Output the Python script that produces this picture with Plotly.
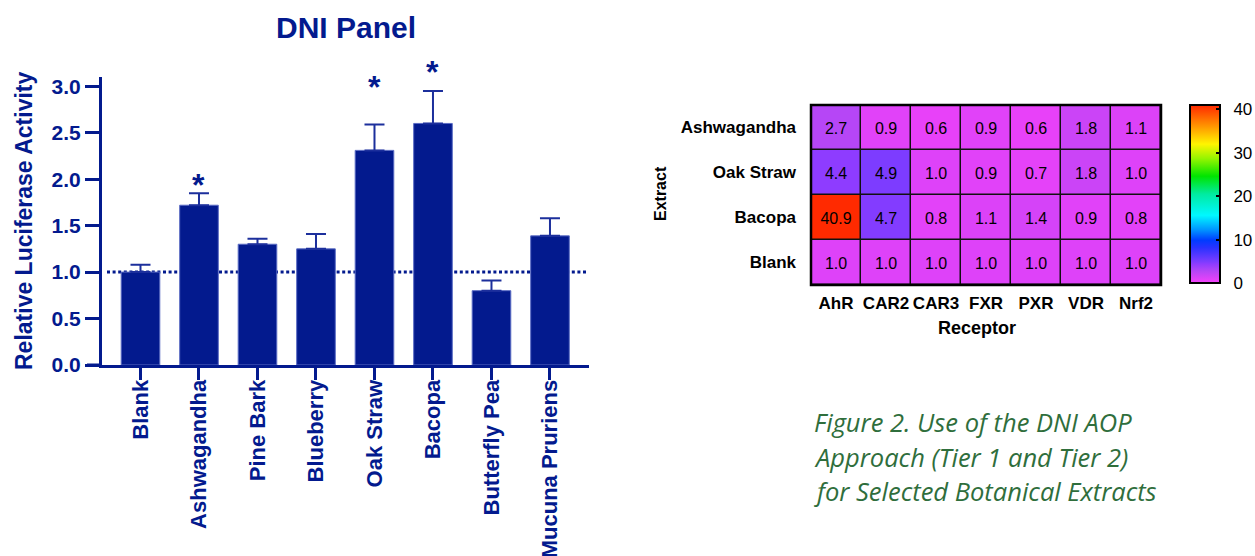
import plotly.graph_objects as go

# ---- Tier 1: DNI panel bar chart ----
extracts = ["Blank", "Ashwagandha", "Pine Bark", "Blueberry",
            "Oak Straw", "Bacopa", "Butterfly Pea", "Mucuna Pruriens"]
luciferase_mean = [1.00, 1.72, 1.30, 1.25, 2.31, 2.60, 0.80, 1.39]
luciferase_sem = [0.08, 0.13, 0.06, 0.16, 0.28, 0.35, 0.11, 0.19]
significant = [False, True, False, False, True, True, False, False]

# ---- Tier 2: receptor heatmap ----
receptors = ["AhR", "CAR2", "CAR3", "FXR", "PXR", "VDR", "Nrf2"]
heat_extracts = ["Ashwagandha", "Oak Straw", "Bacopa", "Blank"]
ashwagandha_fold = [2.7, 0.9, 0.6, 0.9, 0.6, 1.8, 1.1]
oak_straw_fold = [4.4, 4.9, 1.0, 0.9, 0.7, 1.8, 1.0]
bacopa_fold = [40.9, 4.7, 0.8, 1.1, 1.4, 0.9, 0.8]
blank_fold = [1.0, 1.0, 1.0, 1.0, 1.0, 1.0, 1.0]
colorbar_ticks = [0, 10, 20, 30, 40]

caption_lines = ["Figure 2. Use of the DNI AOP",
                 "Approach (Tier 1 and Tier 2)",
                 "for Selected Botanical Extracts"]

W, H = 1255, 556
NAVY = "#031a8e"
FONT = "Liberation Sans"


def px(x):
    return x / W


def py(y):
    return (H - y) / H


fig = go.Figure()

fig.add_trace(go.Bar(
    x=extracts, y=luciferase_mean, width=0.66,
    marker=dict(color=NAVY, line=dict(color="#5a6bc4", width=1)),
    error_y=dict(type="data", array=luciferase_sem,
                 arrayminus=[0] * len(luciferase_sem), symmetric=False,
                 color="#1c2f9c", thickness=2, width=10),
    xaxis="x", yaxis="y", cliponaxis=False,
))

heat_z = [ashwagandha_fold, oak_straw_fold, bacopa_fold, blank_fold]
colorscale = [
    [0.000, "rgb(246,64,250)"],
    [0.066, "rgb(182,70,246)"],
    [0.107, "rgb(142,60,255)"],
    [0.120, "rgb(124,60,255)"],
    [0.200, "rgb(40,50,255)"],
    [0.240, "rgb(0,60,255)"],
    [0.300, "rgb(0,150,255)"],
    [0.380, "rgb(0,248,255)"],
    [0.500, "rgb(0,235,160)"],
    [0.600, "rgb(0,228,0)"],
    [0.700, "rgb(150,245,0)"],
    [0.780, "rgb(255,245,0)"],
    [0.880, "rgb(255,150,0)"],
    [1.000, "rgb(255,40,0)"],
]
fig.add_trace(go.Heatmap(
    z=heat_z, x=receptors, y=heat_extracts,
    zmin=0, zmax=41, colorscale=colorscale, xgap=1.5, ygap=1.5,
    texttemplate="%{z:.1f}",
    textfont=dict(family=FONT, size=16, color="black"),
    xaxis="x2", yaxis="y2",
    colorbar=dict(
        x=px(1190), xanchor="left", xref="paper", xpad=0,
        y=py(194), yanchor="middle", ypad=0,
        len=178, lenmode="pixels", thickness=30, thicknessmode="pixels",
        outlinecolor="black", outlinewidth=2,
        ticks="inside", ticklen=5, tickwidth=2, tickcolor="black",
        tickvals=colorbar_ticks,
        ticktext=["\u2002" + str(t) for t in colorbar_ticks],
        tickfont=dict(family=FONT, size=17, color="black"),
    ),
))

axis_font = dict(family=FONT, size=21, color=NAVY, weight="bold")
fig.update_layout(
    width=W, height=H, margin=dict(l=0, r=0, t=0, b=0, autoexpand=False),
    paper_bgcolor="white", plot_bgcolor="white", showlegend=False,
    xaxis=dict(domain=[px(102), px(589)], range=[-0.658, 7.667],
               showline=True, linecolor=NAVY, linewidth=3,
               ticks="outside", ticklen=12, tickwidth=3, tickcolor=NAVY,
               ticklabelstandoff=-9,
               tickangle=-90, tickfont=dict(family=FONT, size=22, color=NAVY, weight="bold"),
               showgrid=False, zeroline=False),
    yaxis=dict(domain=[py(365), py(77)], range=[0, 3.1],
               showline=True, linecolor=NAVY, linewidth=3,
               ticks="outside", ticklen=14, tickwidth=3, tickcolor=NAVY,
               tickvals=[0, 0.5, 1.0, 1.5, 2.0, 2.5, 3.0], tickformat=".1f",
               tickfont=axis_font, showgrid=False, zeroline=False),
    xaxis2=dict(domain=[px(811), px(1161)], anchor="y2", showgrid=False,
                zeroline=False, ticks="", ticklabelstandoff=6,
                tickfont=dict(family=FONT, size=17, color="black", weight="bold")),
    yaxis2=dict(domain=[py(285), py(105)], anchor="x2", autorange="reversed",
                showgrid=False, zeroline=False, ticks="", ticklabelstandoff=14,
                tickfont=dict(family=FONT, size=17, color="black", weight="bold")),
)

# reference line at the Blank level, drawn beneath the bars
fig.add_shape(type="line", xref="paper", yref="y", x0=px(107), x1=px(586),
              y0=luciferase_mean[0], y1=luciferase_mean[0], layer="below",
              line=dict(color=NAVY, width=3, dash="3px,2.6px"))
# x axis line continues under the y tick marks
fig.add_shape(type="line", xref="paper", yref="y", x0=px(87), x1=px(102),
              y0=0, y1=0, line=dict(color=NAVY, width=3))

# cell separators behind the heatmap and its frame
fig.add_shape(type="rect", xref="x2 domain", yref="y2 domain", x0=0, x1=1, y0=0, y1=1,
              layer="below", fillcolor="#111111", line=dict(width=0))
fig.add_shape(type="rect", xref="x2 domain", yref="y2 domain", x0=0, x1=1, y0=0, y1=1,
              line=dict(color="black", width=2.5))

annotations = [
    dict(text="DNI Panel", x=px(346), y=py(27), xref="paper", yref="paper",
         xanchor="center", yanchor="middle", showarrow=False,
         font=dict(family=FONT, size=30, color=NAVY, weight="bold")),
    dict(text="Relative Luciferase Activity", x=px(24), y=py(221), xref="paper",
         yref="paper", xanchor="center", yanchor="middle", textangle=-90,
         showarrow=False, font=dict(family=FONT, size=23, color=NAVY, weight="bold")),
    dict(text="Receptor", x=px(977), y=py(328), xref="paper", yref="paper",
         xanchor="center", yanchor="middle", showarrow=False,
         font=dict(family=FONT, size=18, color="black", weight="bold")),
    dict(text="Extract", x=px(660), y=py(194), xref="paper", yref="paper",
         xanchor="center", yanchor="middle", textangle=-90, showarrow=False,
         font=dict(family=FONT, size=16, color="black", weight="bold")),
]

# significance stars above the error bars
star_shift = [12, 41, 23]
k = 0
for name, m, s, sig in zip(extracts, luciferase_mean, luciferase_sem, significant):
    if sig:
        annotations.append(dict(
            text="*", x=name, y=m + s, xref="x", yref="y", showarrow=False,
            yanchor="middle", yshift=star_shift[k] - 4,
            font=dict(family=FONT, size=32, color=NAVY, weight="bold")))
        k += 1

for i, line in enumerate(caption_lines):
    annotations.append(dict(
        text=line, x=px(812), y=py(422 + 34.5 * i), xref="paper", yref="paper",
        xanchor="left", yanchor="middle", showarrow=False,
        font=dict(family="Open Sans", size=25.5, color="#2f6e3c", style="italic")))

fig.update_layout(annotations=annotations)
fig.write_html("out.html")
